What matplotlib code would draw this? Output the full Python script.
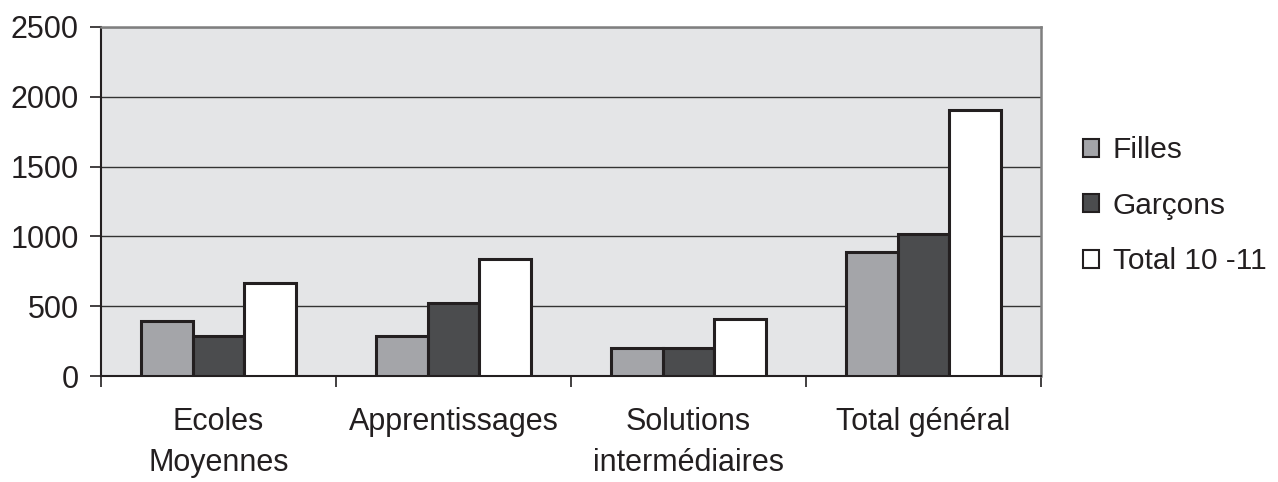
import matplotlib
matplotlib.use("Agg")
import matplotlib.pyplot as plt
import numpy as np

categories = ["Ecoles\nMoyennes", "Apprentissages", "Solutions\nintermédiaires", "Total général"]
series_names = ["Filles", "Garçons", "Total 10 -11"]
filles = [394, 289, 204, 890]
garcons = [289, 523, 204, 1014]
total = [664, 835, 410, 1906]
yticks = [0, 500, 1000, 1500, 2000, 2500]

plt.rcParams['font.family'] = ['Liberation Sans', 'DejaVu Sans']

fig = plt.figure(figsize=(12.78, 4.82), dpi=100)
ax = fig.add_axes([101/1278, 1-376/482, 940/1278, 349/482])
ax.set_facecolor('#E4E5E7')

x = np.arange(len(categories))
w = 0.221
colors = ['#A4A5A9', '#4B4C4E', '#FFFFFF']
for i, (vals, c, name) in enumerate(zip([filles, garcons, total], colors, series_names)):
    ax.bar(x + (i - 1) * w, vals, width=w, color=c, edgecolor='#231F20', linewidth=2.2,
           label=name, zorder=3)

ax.set_xlim(-0.5, len(categories) - 0.5)
ax.set_ylim(0, 2500)
ax.set_yticks(yticks)
ax.set_yticklabels([str(v) for v in yticks])
ax.yaxis.grid(True, color='#333333', linewidth=1.0, zorder=1)
ax.set_axisbelow(True)

ax.set_xticks(np.arange(len(categories) + 1) - 0.5)
ax.set_xticklabels([])
ax.set_xticks(x, minor=True)
ax.set_xticklabels(categories, minor=True, fontsize=22, linespacing=1.5, color='#231F20')
ax.tick_params(axis='x', which='minor', length=0, pad=22)
ax.tick_params(axis='x', which='major', length=8, width=1.2, color='#231F20')
ax.tick_params(axis='y', length=8, width=1.2, color='#231F20', labelsize=22, pad=8,
               labelcolor='#231F20')

for s in ['top', 'right']:
    ax.spines[s].set_color('#7F7F7F')
    ax.spines[s].set_linewidth(1.8)
for s in ['left', 'bottom']:
    ax.spines[s].set_color('#231F20')
    ax.spines[s].set_linewidth(1.5)

leg = ax.legend(loc='center left', bbox_to_anchor=(1.016, 0.488), frameon=False,
                fontsize=21.5, handlelength=0.55, handleheight=0.55, handletextpad=0.45,
                labelspacing=0.92)
for h in leg.legend_handles:
    h.set_linewidth(1.5)
for t in leg.get_texts():
    t.set_color('#231F20')

fig.savefig('out.png', dpi=100)
